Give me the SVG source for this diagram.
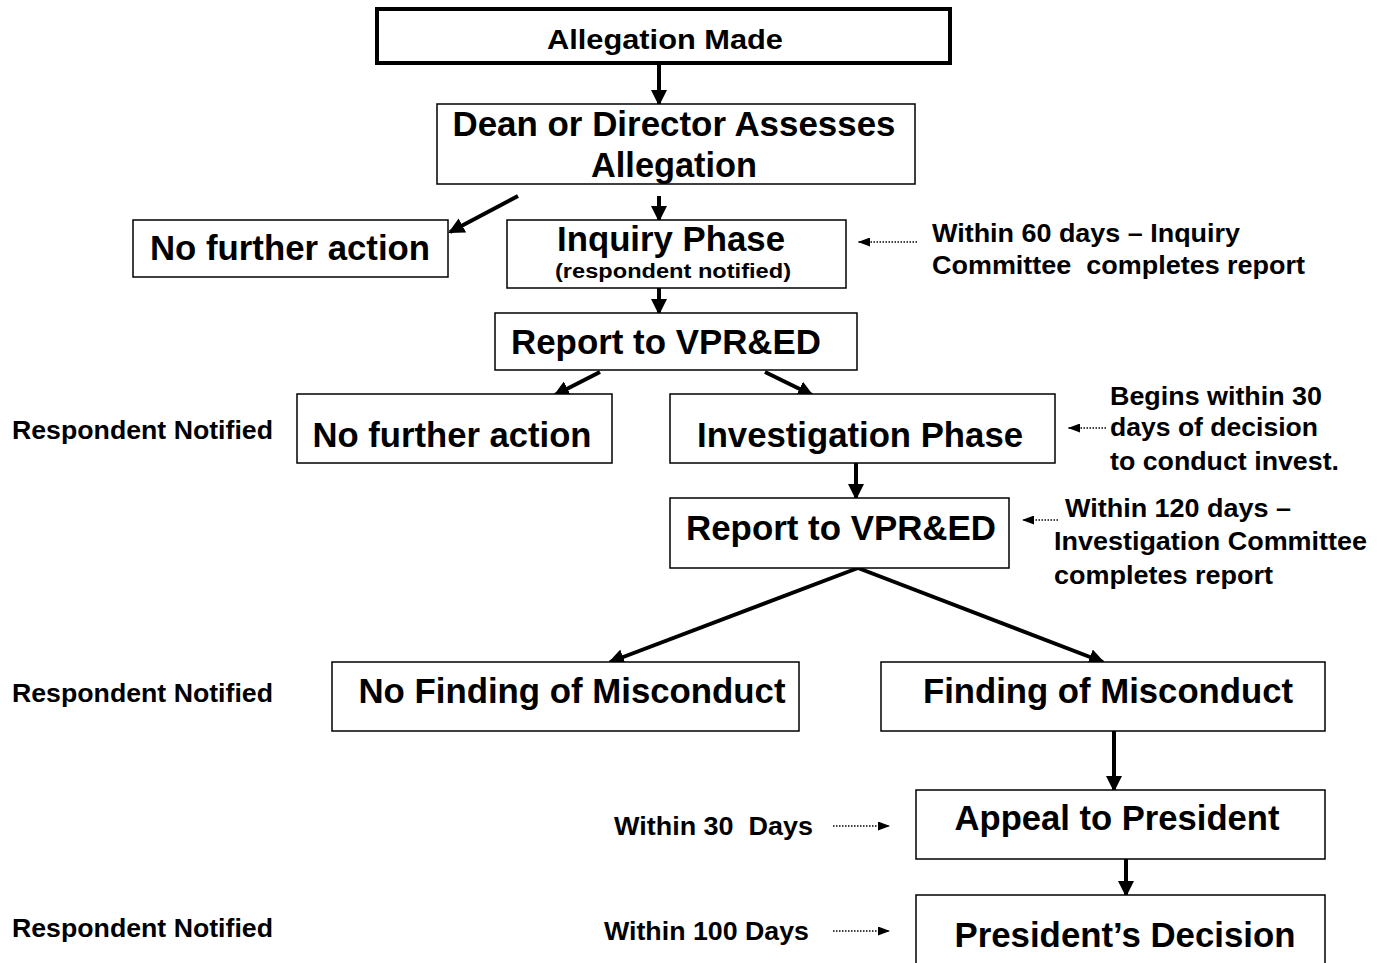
<svg xmlns="http://www.w3.org/2000/svg" width="1386" height="963" viewBox="0 0 1386 963">
<defs>
<style>
.box{fill:#fff;stroke:#000;stroke-width:1.5}
.t{font-family:"Liberation Sans",Arial,sans-serif;font-weight:bold;fill:#000}
.big{font-size:35px;text-anchor:middle}
.mid{font-size:26px}
.c{stroke:#000;stroke-width:4;fill:none}
.d{stroke:#000;stroke-width:1.5;stroke-dasharray:1.5 1.5;fill:none}
</style>
<marker id="ah" markerWidth="4" markerHeight="4" refX="3.5" refY="2" orient="auto" markerUnits="strokeWidth">
<path d="M0,0 L4,2 L0,4 z" fill="#000"/>
</marker>
<marker id="ad" markerWidth="8" markerHeight="6" refX="8" refY="3" orient="auto" markerUnits="strokeWidth">
<path d="M0,0 L8,3 L0,6 z" fill="#000"/>
</marker>
</defs>
<rect width="1386" height="963" fill="#fff"/>
<g id="connectors">
<line class="c" x1="659" y1="64" x2="659" y2="104" marker-end="url(#ah)"/>
<line class="c" x1="518" y1="196" x2="450" y2="232" marker-end="url(#ah)"/>
<line class="c" x1="659" y1="196" x2="659" y2="220" marker-end="url(#ah)"/>
<line class="c" x1="659" y1="288" x2="659" y2="313" marker-end="url(#ah)"/>
<line class="c" x1="600" y1="372" x2="555" y2="395" marker-end="url(#ah)"/>
<line class="c" x1="765" y1="372" x2="812" y2="395" marker-end="url(#ah)"/>
<line class="c" x1="856" y1="463" x2="856" y2="498" marker-end="url(#ah)"/>
<line class="c" x1="858" y1="568" x2="610" y2="662" marker-end="url(#ah)"/>
<line class="c" x1="858" y1="568" x2="1103" y2="662" marker-end="url(#ah)"/>
<line class="c" x1="1114" y1="731" x2="1114" y2="790" marker-end="url(#ah)"/>
<line class="c" x1="1126" y1="859" x2="1126" y2="895" marker-end="url(#ah)"/>
<line class="d" x1="917" y1="242" x2="858" y2="242" marker-end="url(#ad)"/>
<line class="d" x1="1106" y1="428" x2="1068" y2="428" marker-end="url(#ad)"/>
<line class="d" x1="1058" y1="520" x2="1022" y2="520" marker-end="url(#ad)"/>
<line class="d" x1="833" y1="826" x2="890" y2="826" marker-end="url(#ad)"/>
<line class="d" x1="833" y1="931" x2="890" y2="931" marker-end="url(#ad)"/>
</g>
<g id="allegation">
<rect x="377" y="9" width="573" height="54" fill="#fff" stroke="#000" stroke-width="4"/>
<text class="t" x="665" y="49" font-size="28" text-anchor="middle" textLength="236" lengthAdjust="spacingAndGlyphs">Allegation Made</text>
</g>
<g id="dean">
<rect class="box" x="437" y="104" width="478" height="80"/>
<text class="t big" x="674" y="136" textLength="443" lengthAdjust="spacingAndGlyphs">Dean or Director Assesses</text>
<text class="t big" x="674" y="177" textLength="166" lengthAdjust="spacingAndGlyphs">Allegation</text>
</g>
<g id="nfa1">
<rect class="box" x="133" y="220" width="315" height="57"/>
<text class="t big" x="290" y="260" textLength="280" lengthAdjust="spacingAndGlyphs">No further action</text>
</g>
<g id="inquiry">
<rect class="box" x="507" y="220" width="339" height="68"/>
<text class="t big" x="671" y="251" textLength="228" lengthAdjust="spacingAndGlyphs">Inquiry Phase</text>
<text class="t" x="673" y="278" font-size="20" text-anchor="middle" textLength="236" lengthAdjust="spacingAndGlyphs">(respondent notified)</text>
</g>
<g id="note-inquiry">
<text class="t mid" x="932" y="242" textLength="308" lengthAdjust="spacingAndGlyphs">Within 60 days – Inquiry</text>
<text class="t mid" x="932" y="274" xml:space="preserve" textLength="373" lengthAdjust="spacingAndGlyphs">Committee  completes report</text>
</g>
<g id="report1">
<rect class="box" x="495" y="313" width="362" height="57"/>
<text class="t big" x="666" y="354" textLength="310" lengthAdjust="spacingAndGlyphs">Report to VPR&amp;ED</text>
</g>
<g id="resp1"><text class="t mid" x="12" y="439" textLength="261" lengthAdjust="spacingAndGlyphs">Respondent Notified</text></g>
<g id="nfa2">
<rect class="box" x="297" y="394" width="315" height="69"/>
<text class="t big" x="452" y="447" textLength="279" lengthAdjust="spacingAndGlyphs">No further action</text>
</g>
<g id="investigation">
<rect class="box" x="670" y="394" width="385" height="69"/>
<text class="t big" x="860" y="447" textLength="326" lengthAdjust="spacingAndGlyphs">Investigation Phase</text>
</g>
<g id="note-invest">
<text class="t mid" x="1110" y="405" textLength="212" lengthAdjust="spacingAndGlyphs">Begins within 30</text>
<text class="t mid" x="1110" y="436" textLength="208" lengthAdjust="spacingAndGlyphs">days of decision</text>
<text class="t mid" x="1110" y="470" textLength="229" lengthAdjust="spacingAndGlyphs">to conduct invest.</text>
</g>
<g id="report2">
<rect class="box" x="670" y="498" width="339" height="70"/>
<text class="t big" x="841" y="540" textLength="310" lengthAdjust="spacingAndGlyphs">Report to VPR&amp;ED</text>
</g>
<g id="note-report2">
<text class="t mid" x="1065" y="517" textLength="226" lengthAdjust="spacingAndGlyphs">Within 120 days –</text>
<text class="t mid" x="1054" y="550" textLength="313" lengthAdjust="spacingAndGlyphs">Investigation Committee</text>
<text class="t mid" x="1054" y="584" textLength="219" lengthAdjust="spacingAndGlyphs">completes report</text>
</g>
<g id="resp2"><text class="t mid" x="12" y="702" textLength="261" lengthAdjust="spacingAndGlyphs">Respondent Notified</text></g>
<g id="nofinding">
<rect class="box" x="332" y="662" width="467" height="69"/>
<text class="t big" x="572" y="703" textLength="427" lengthAdjust="spacingAndGlyphs">No Finding of Misconduct</text>
</g>
<g id="finding">
<rect class="box" x="881" y="662" width="444" height="69"/>
<text class="t big" x="1108" y="703" textLength="370" lengthAdjust="spacingAndGlyphs">Finding of Misconduct</text>
</g>
<g id="note-30"><text class="t mid" x="614" y="835" xml:space="preserve" textLength="199" lengthAdjust="spacingAndGlyphs">Within 30  Days</text></g>
<g id="appeal">
<rect class="box" x="916" y="790" width="409" height="69"/>
<text class="t big" x="1117" y="830" textLength="325" lengthAdjust="spacingAndGlyphs">Appeal to President</text>
</g>
<g id="resp3"><text class="t mid" x="12" y="937" textLength="261" lengthAdjust="spacingAndGlyphs">Respondent Notified</text></g>
<g id="note-100"><text class="t mid" x="604" y="940" textLength="205" lengthAdjust="spacingAndGlyphs">Within 100 Days</text></g>
<g id="decision">
<rect class="box" x="916" y="895" width="409" height="90"/>
<text class="t big" x="1125" y="947" textLength="341" lengthAdjust="spacingAndGlyphs">President’s Decision</text>
</g>
</svg>
